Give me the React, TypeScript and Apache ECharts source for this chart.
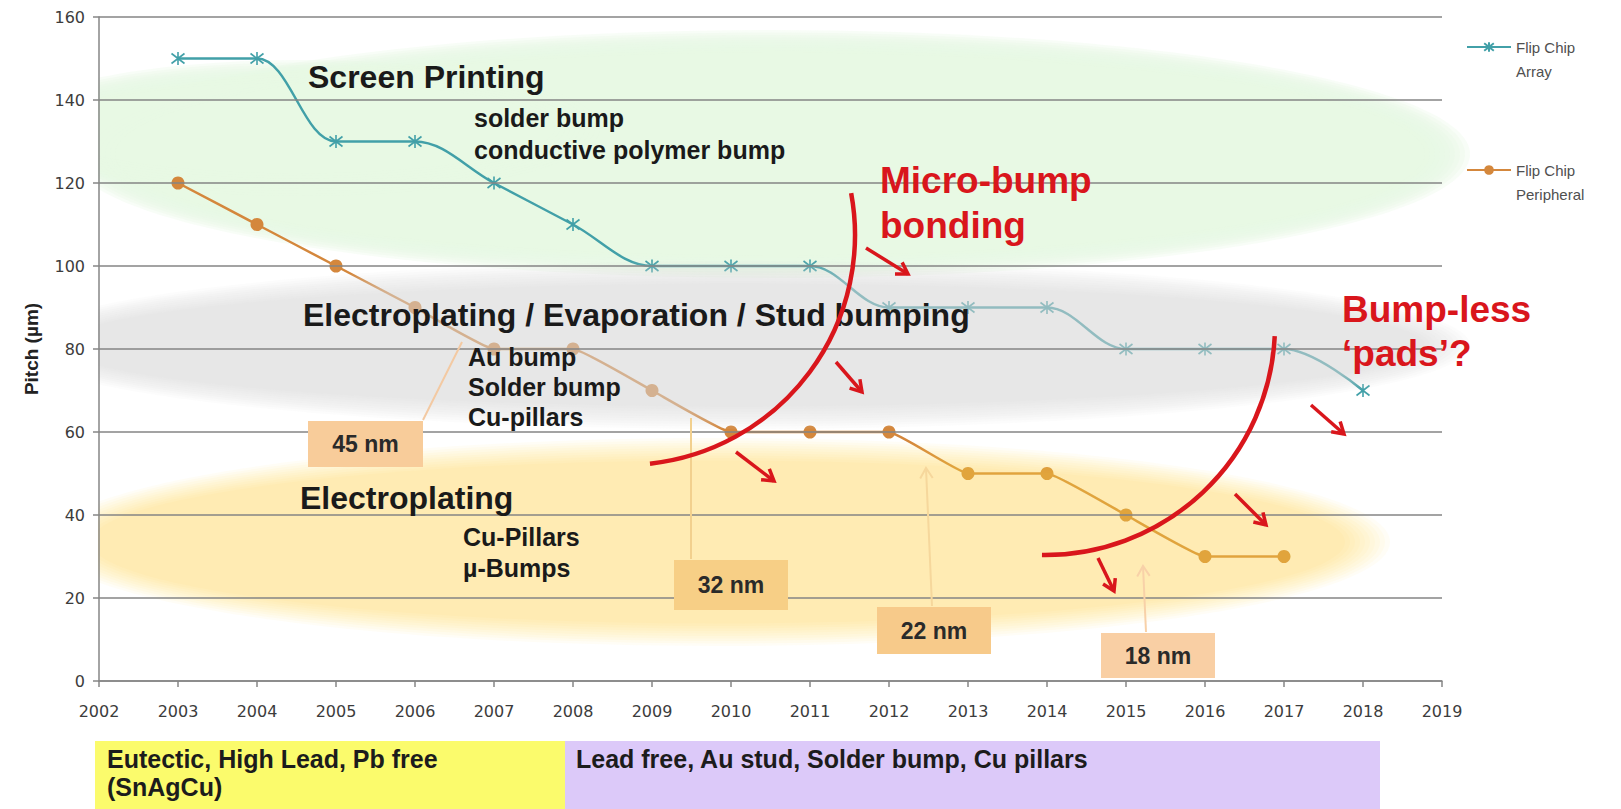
import React, { useEffect, useRef } from "react";
import * as echarts from "echarts";

// ---- data -------------------------------------------------------------
const arrayYears = [2003, 2004, 2005, 2006, 2007, 2008, 2009, 2010, 2011, 2012, 2013, 2014, 2015, 2016, 2017, 2018];
const arrayPitch = [150, 150, 130, 130, 120, 110, 100, 100, 100, 90, 90, 90, 80, 80, 80, 70];
const peripheralYears = [2003, 2004, 2005, 2006, 2007, 2008, 2009, 2010, 2011, 2012, 2013, 2014, 2015, 2016, 2017];
const peripheralPitch = [120, 110, 100, 90, 80, 80, 70, 60, 60, 60, 50, 50, 40, 30, 30];
const seriesNames = ["Flip Chip Array", "Flip Chip Peripheral"];
const yearRange = [2002, 2019];
const pitchRange = [0, 160];
const pitchStep = 20;
const nodeLabels = ["45 nm", "32 nm", "22 nm", "18 nm"];
const bandLabels = ["Eutectic, High Lead, Pb free\n(SnAgCu)", "Lead free, Au stud, Solder bump, Cu pillars"];

// ---- styling ----------------------------------------------------------
const TEAL = "#42a0a8";
const ORANGE = "#d4873c";
const RED = "#d9161c";
const SANS = '"Liberation Sans", Arial, Helvetica, sans-serif';
const TICK_FONT = '"DejaVu Sans", sans-serif';

type RGB = [number, number, number];

// Ellipse with a feathered rim, built from stacked translucent layers.
function softEllipse(cx: number, cy: number, rx: number, ry: number, rgb: RGB, alpha: number, z: number, layers = 10, sx = 5, sy = 2.5) {
  const a = 1 - Math.pow(1 - alpha, 1 / layers);
  const out: any[] = [];
  for (let i = 0; i < layers; i++) {
    out.push({
      type: "ellipse",
      silent: true,
      z,
      shape: { cx, cy, rx: rx - i * sx, ry: ry - i * sy },
      style: { fill: `rgba(${rgb[0]},${rgb[1]},${rgb[2]},${a.toFixed(4)})` },
    });
  }
  return out;
}

function arrow(x1: number, y1: number, x2: number, y2: number, color: string, width: number, head: number, z: number) {
  const ang = Math.atan2(y2 - y1, x2 - x1);
  const spread = 0.55;
  return [
    { type: "line", silent: true, z, shape: { x1, y1, x2, y2 }, style: { stroke: color, lineWidth: width, lineCap: "butt" } },
    {
      type: "polyline",
      silent: true,
      z,
      shape: {
        points: [
          [x2 - head * Math.cos(ang - spread), y2 - head * Math.sin(ang - spread)],
          [x2, y2],
          [x2 - head * Math.cos(ang + spread), y2 - head * Math.sin(ang + spread)],
        ],
      },
      style: { stroke: color, lineWidth: width, fill: "none", lineJoin: "miter" },
    },
  ];
}

function lines(x: number, y0: number, lh: number, rows: string[], size: number, color: string, z: number, weight = "bold") {
  return rows.map((t, i) => ({
    type: "text",
    silent: true,
    z,
    x,
    y: y0 + i * lh,
    style: { text: t, fill: color, fontSize: size, fontWeight: weight, fontFamily: SANS, align: "left", verticalAlign: "middle" },
  }));
}

function nodeBox(x: number, y: number, w: number, h: number, fill: string, label: string, z: number) {
  return [
    { type: "rect", silent: true, z, shape: { x, y, width: w, height: h }, style: { fill } },
    {
      type: "text",
      silent: true,
      z: z + 1,
      x: x + w / 2,
      y: y + h / 2,
      style: { text: label, fill: "#2a2a2a", fontSize: 23, fontWeight: "bold", fontFamily: SANS, align: "center", verticalAlign: "middle" },
    },
  ];
}

function buildGraphic() {
  const g: any[] = [];
  // process regions
  g.push(...softEllipse(770, 154, 700, 124, [230, 247, 227], 0.97, 1));
  g.push(...softEllipse(300, 128, 300, 68, [230, 247, 227], 0.97, 1));
  g.push(...softEllipse(742, 345, 728, 84, [216, 216, 218], 0.56, 5));
  g.push(...softEllipse(718, 542, 672, 104, [249, 208, 70], 0.4, 5));
  // keep the regions inside the plot on the left
  g.push({ type: "rect", silent: true, z: 6, shape: { x: 0, y: 0, width: 98, height: 740 }, style: { fill: "#ffffff" } });

  // callouts for technology nodes
  const Z = 9;
  g.push({ type: "line", silent: true, z: Z, shape: { x1: 423, y1: 420, x2: 462, y2: 342 }, style: { stroke: "#f3c9a2", lineWidth: 2 } });
  g.push({ type: "line", silent: true, z: Z, shape: { x1: 691, y1: 559, x2: 691, y2: 418 }, style: { stroke: "#f2d08e", lineWidth: 2 } });
  g.push(...arrow(932, 606, 926, 468, "#f6d79c", 2, 12, Z));
  g.push(...arrow(1146, 632, 1143, 566, "#f8d1a8", 2, 12, Z));
  g.push(...nodeBox(308, 421, 115, 46, "#f8cc9a", nodeLabels[0], Z));
  g.push(...nodeBox(674, 560, 114, 50, "#f7cf86", nodeLabels[1], Z));
  g.push(...nodeBox(877, 607, 114, 47, "#f7ca8a", nodeLabels[2], Z));
  g.push(...nodeBox(1101, 633, 114, 45, "#f9cfa4", nodeLabels[3], Z));

  // region captions
  g.push(...lines(308, 77, 34, ["Screen Printing"], 32, "#1a1a1a", Z));
  g.push(...lines(474, 118, 32, ["solder bump", "conductive polymer bump"], 25, "#1a1a1a", Z));
  g.push(...lines(303, 315, 34, ["Electroplating / Evaporation / Stud bumping"], 32, "#1a1a1a", Z));
  g.push(...lines(468, 357, 30, ["Au bump", "Solder bump", "Cu-pillars"], 25, "#1a1a1a", Z));
  g.push(...lines(300, 498, 34, ["Electroplating"], 32, "#1a1a1a", Z));
  g.push(...lines(463, 537, 31, ["Cu-Pillars", "\u00b5-Bumps"], 25, "#1a1a1a", Z));

  // transitions
  g.push({ type: "arc", silent: true, z: Z, shape: { cx: 625, cy: 235, r: 230, startAngle: -0.183, endAngle: 1.462, clockwise: true }, style: { stroke: RED, lineWidth: 4.5, fill: "none" } });
  g.push({ type: "arc", silent: true, z: Z, shape: { cx: 1045, cy: 325, r: 230, startAngle: 0.048, endAngle: 1.584, clockwise: true }, style: { stroke: RED, lineWidth: 4.5, fill: "none" } });
  g.push(...arrow(866, 248, 908, 274, RED, 3.5, 13, Z));
  g.push(...arrow(836, 362, 862, 392, RED, 3.5, 13, Z));
  g.push(...arrow(736, 452, 774, 481, RED, 3.5, 13, Z));
  g.push(...arrow(1098, 558, 1114, 591, RED, 3.5, 13, Z));
  g.push(...arrow(1235, 494, 1266, 525, RED, 3.5, 13, Z));
  g.push(...arrow(1311, 405, 1344, 434, RED, 3.5, 13, Z));
  g.push(...lines(880, 180, 45, ["Micro-bump", "bonding"], 37, RED, Z));
  g.push(...lines(1342, 309, 44, ["Bump-less", "\u2018pads\u2019?"], 37, RED, Z));

  // material bands under the axis
  g.push({ type: "rect", silent: true, z: Z, shape: { x: 95, y: 741, width: 470, height: 68 }, style: { fill: "#fbfb6c" } });
  g.push({ type: "rect", silent: true, z: Z, shape: { x: 565, y: 741, width: 815, height: 68 }, style: { fill: "#dcc9f9" } });
  const [band1, band1b] = bandLabels[0].split("\n");
  g.push(...lines(107, 759, 28, [band1, band1b], 25, "#1c1c1c", Z + 1));
  g.push(...lines(576, 759, 28, [bandLabels[1]], 25, "#1c1c1c", Z + 1));
  return g;
}

const STAR = "path://M0,0L10,10M10,0L0,10M5,-1.5L5,11.5";

export default function App() {
  const ref = useRef<HTMLDivElement>(null);
  useEffect(() => {
    if (!ref.current) return;
    const chart = echarts.init(ref.current, undefined, { renderer: "svg" });
    const option: any = {
      animation: false,
      backgroundColor: "#ffffff",
      grid: { left: 99, right: 179, top: 17, bottom: 128 },
      legend: {
        orient: "vertical",
        left: 1466,
        top: 11,
        padding: 0,
        itemGap: 51,
        itemWidth: 44,
        itemHeight: 12,
        z: 12,
        data: seriesNames,
        // leading blank row keeps the first text row level with the icon
        formatter: (n: string) => "\n" + n.replace("Flip Chip ", "Flip Chip\n"),
        textStyle: { fontFamily: SANS, fontSize: 15, color: "#505050", lineHeight: 24 },
      },
      xAxis: {
        type: "value",
        min: yearRange[0],
        max: yearRange[1],
        interval: 1,
        z: 7,
        axisLine: { show: true, lineStyle: { color: "#868686", width: 1.5 } },
        axisTick: { show: true, length: 6, lineStyle: { color: "#868686", width: 1.5 } },
        splitLine: { show: false },
        axisLabel: { formatter: (v: number) => String(v), fontFamily: TICK_FONT, fontSize: 16, color: "#3c3c3c", margin: 22 },
      },
      yAxis: {
        type: "value",
        min: pitchRange[0],
        max: pitchRange[1],
        interval: pitchStep,
        z: 7,
        name: "Pitch (\u00b5m)",
        nameLocation: "middle",
        nameGap: 58,
        nameTextStyle: { fontFamily: SANS, fontWeight: "bold", fontSize: 19, color: "#222" },
        axisLine: { show: true, lineStyle: { color: "#868686", width: 1.5 } },
        axisTick: { show: true, length: 6, lineStyle: { color: "#868686", width: 1.5 } },
        splitLine: { show: true, lineStyle: { color: "#848484", width: 1.5 } },
        axisLabel: { fontFamily: TICK_FONT, fontSize: 16, color: "#3c3c3c", margin: 14 },
      },
      series: [
        {
          name: seriesNames[0],
          type: "line",
          z: 3,
          smooth: 0.35,
          data: arrayYears.map((y, i) => [y, arrayPitch[i]]),
          symbol: STAR,
          symbolSize: 13,
          lineStyle: { color: TEAL, width: 2.5 },
          itemStyle: { color: TEAL, borderColor: TEAL, borderWidth: 1.6 },
        },
        {
          name: seriesNames[1],
          type: "line",
          z: 3,
          smooth: 0.1,
          data: peripheralYears.map((y, i) => [y, peripheralPitch[i]]),
          symbol: "circle",
          symbolSize: 13,
          lineStyle: { color: ORANGE, width: 2.5 },
          itemStyle: { color: ORANGE },
        },
      ],
      graphic: { elements: buildGraphic() },
    };
    chart.setOption(option);
    return () => chart.dispose();
  }, []);
  return <div ref={ref} style={{ position: "absolute", left: 0, top: 0, width: 1621, height: 809 }} />;
}
